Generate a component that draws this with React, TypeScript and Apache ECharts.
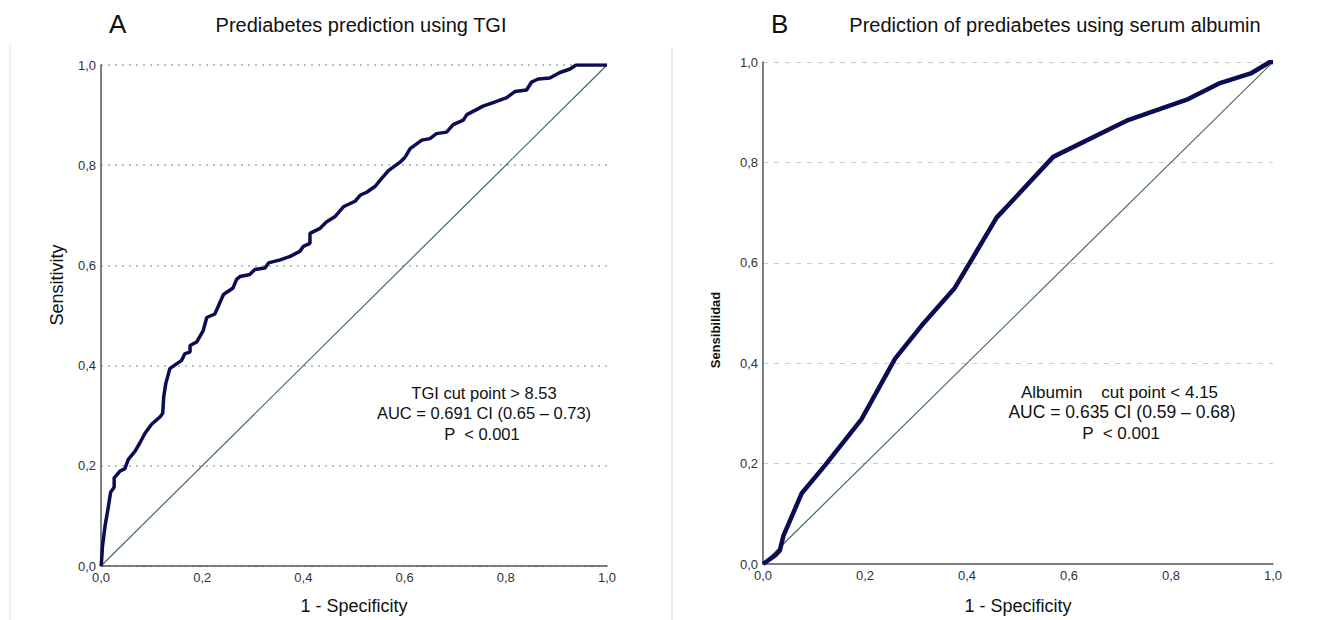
import React, { useEffect, useRef } from "react";
import * as echarts from "echarts";

// Panel A: TGI ROC curve (1 - specificity, sensitivity)
const tgiFpr = [0, 0.001, 0.003, 0.008, 0.014, 0.019, 0.026, 0.026, 0.038, 0.047, 0.054, 0.067, 0.077, 0.087, 0.1, 0.117, 0.122, 0.124, 0.128, 0.136, 0.15, 0.159, 0.166, 0.176, 0.176, 0.189, 0.202, 0.209, 0.225, 0.242, 0.261, 0.268, 0.275, 0.294, 0.304, 0.324, 0.331, 0.354, 0.374, 0.393, 0.4, 0.413, 0.413, 0.433, 0.446, 0.462, 0.479, 0.502, 0.512, 0.525, 0.542, 0.551, 0.568, 0.591, 0.601, 0.611, 0.634, 0.65, 0.663, 0.683, 0.696, 0.716, 0.723, 0.742, 0.755, 0.775, 0.802, 0.818, 0.841, 0.851, 0.864, 0.887, 0.907, 0.927, 0.939, 1];
const tgiTpr = [0, 0.008, 0.04, 0.08, 0.115, 0.147, 0.157, 0.176, 0.19, 0.194, 0.213, 0.229, 0.246, 0.265, 0.283, 0.298, 0.305, 0.338, 0.364, 0.394, 0.404, 0.41, 0.424, 0.427, 0.44, 0.447, 0.47, 0.496, 0.503, 0.542, 0.555, 0.572, 0.578, 0.582, 0.592, 0.595, 0.605, 0.611, 0.618, 0.628, 0.638, 0.644, 0.664, 0.674, 0.687, 0.697, 0.717, 0.728, 0.74, 0.746, 0.758, 0.769, 0.789, 0.806, 0.816, 0.833, 0.85, 0.853, 0.863, 0.866, 0.881, 0.89, 0.901, 0.911, 0.918, 0.925, 0.935, 0.947, 0.95, 0.966, 0.972, 0.974, 0.985, 0.992, 1, 1];

// Panel B: serum albumin ROC curve
const albFpr = [0, 0.024, 0.033, 0.04, 0.076, 0.122, 0.193, 0.259, 0.311, 0.376, 0.416, 0.458, 0.494, 0.569, 0.713, 0.831, 0.896, 0.958, 0.994, 1];
const albTpr = [0, 0.017, 0.027, 0.056, 0.141, 0.197, 0.288, 0.409, 0.475, 0.55, 0.618, 0.69, 0.729, 0.811, 0.883, 0.925, 0.958, 0.978, 1, 1];

// Reference (chance) line
const diagX = [0, 1];
const diagY = [0, 1];

const panelLetters = ["A", "B"];
const panelTitles = ["Prediabetes prediction using TGI", "Prediction of prediabetes using serum albumin"];
const yAxisNames = ["Sensitivity", "Sensibilidad"];
const xAxisName = "1 - Specificity";
const notesA = ["TGI cut point > 8.53", "AUC = 0.691 CI (0.65 \u2013 0.73)", "P  < 0.001"];
const notesB = ["Albumin    cut point < 4.15", "AUC = 0.635 CI (0.59 \u2013 0.68)", "P  < 0.001"];

const FONT = "'Liberation Sans', Arial, sans-serif";
const zip = (xs: number[], ys: number[]) => xs.map((x, i) => [x, ys[i]]);
const fmt = (v: number) => v.toFixed(1).replace(".", ",");

export default function App() {
  const ref = useRef<HTMLDivElement>(null);
  useEffect(() => {
    if (!ref.current) return;
    const chart = echarts.init(ref.current, undefined, { renderer: "svg" });

    const axisLine = { show: true, lineStyle: { color: "#555", width: 1.5 } };
    const axisLabel = { fontSize: 13, color: "#333", fontFamily: FONT, formatter: fmt, margin: 5 };

    const mkX = (gi: number, gap: number) => ({
      type: "value", gridIndex: gi, min: 0, max: 1, interval: 0.2,
      axisLine, axisTick: { show: false }, axisLabel,
      splitLine: { show: false },
      name: xAxisName, nameLocation: "middle", nameGap: gap,
      nameTextStyle: { fontSize: 18, color: "#111", fontFamily: FONT },
    });
    const mkY = (gi: number, split: any) => ({
      type: "value", gridIndex: gi, min: 0, max: 1, interval: 0.2,
      axisLine, axisTick: { show: false }, axisLabel,
      splitLine: { show: true, lineStyle: split },
    });

    const curve = (gi: number, data: number[][], w: number) => ({
      type: "line", xAxisIndex: gi, yAxisIndex: gi, data, showSymbol: false,
      symbol: "none", lineStyle: { color: "#0c0c52", width: w }, z: 5,
    });
    const diag = (gi: number) => ({
      type: "line", xAxisIndex: gi, yAxisIndex: gi, data: zip(diagX, diagY),
      showSymbol: false, symbol: "none", lineStyle: { color: "#466a60", width: 1.2 }, z: 4,
    });

    const noteText = (x: number, y: number, t: string, align: string, size: number) => ({
      type: "text", x, y,
      style: { text: t, fontSize: size, fill: "#111", fontFamily: FONT, textAlign: align, textVerticalAlign: "middle" },
    });

    chart.setOption({
      animation: false,
      backgroundColor: "#fff",
      grid: [
        { left: 101, top: 65, width: 506, height: 506 },
        { left: 763, top: 62, width: 510, height: 510 },
      ],
      xAxis: [mkX(0, 31), mkX(1, 33)],
      yAxis: [
        mkY(0, { color: "#aaa", type: [2, 5], width: 1.5 }),
        mkY(1, { color: "#ccc", type: [5, 6], width: 1.2 }),
      ],
      series: [
        diag(0), curve(0, zip(tgiFpr, tgiTpr), 3.5),
        diag(1), curve(1, zip(albFpr, albTpr), 4.5),
      ],
      graphic: [
        { type: "line", shape: { x1: 10, y1: 45, x2: 10, y2: 620 }, style: { stroke: "#ddd", lineWidth: 1 } },
        { type: "line", shape: { x1: 672, y1: 47, x2: 672, y2: 620 }, style: { stroke: "#ddd", lineWidth: 1 } },
        { type: "text", x: 109, y: 24, style: { text: panelLetters[0], fontSize: 26, fill: "#111", fontFamily: FONT, textVerticalAlign: "middle" } },
        { type: "text", x: 771, y: 24, style: { text: panelLetters[1], fontSize: 26, fill: "#111", fontFamily: FONT, textVerticalAlign: "middle" } },
        { type: "text", x: 361, y: 25, style: { text: panelTitles[0], fontSize: 20, fill: "#111", fontFamily: FONT, textAlign: "center", textVerticalAlign: "middle" } },
        { type: "text", x: 1055, y: 25, style: { text: panelTitles[1], fontSize: 20, fill: "#111", fontFamily: FONT, textAlign: "center", textVerticalAlign: "middle" } },
        { type: "text", x: 57, y: 285, rotation: Math.PI / 2, style: { text: yAxisNames[0], fontSize: 18, fill: "#111", fontFamily: FONT, textAlign: "center", textVerticalAlign: "middle" } },
        { type: "text", x: 715, y: 330, rotation: Math.PI / 2, style: { text: yAxisNames[1], fontSize: 13, fontWeight: "bold", fill: "#111", fontFamily: FONT, textAlign: "center", textVerticalAlign: "middle" } },
        noteText(484, 393, notesA[0], "center", 16.5),
        noteText(484, 413, notesA[1], "center", 16.5),
        noteText(482, 434, notesA[2], "center", 16.5),
        noteText(1021, 392, notesB[0], "left", 17),
        noteText(1122, 412, notesB[1], "center", 17.5),
        noteText(1121, 433, notesB[2], "center", 17),
      ],
    });
    return () => chart.dispose();
  }, []);
  return <div ref={ref} style={{ position: "absolute", left: 0, top: 0, width: 1327, height: 620 }} />;
}
